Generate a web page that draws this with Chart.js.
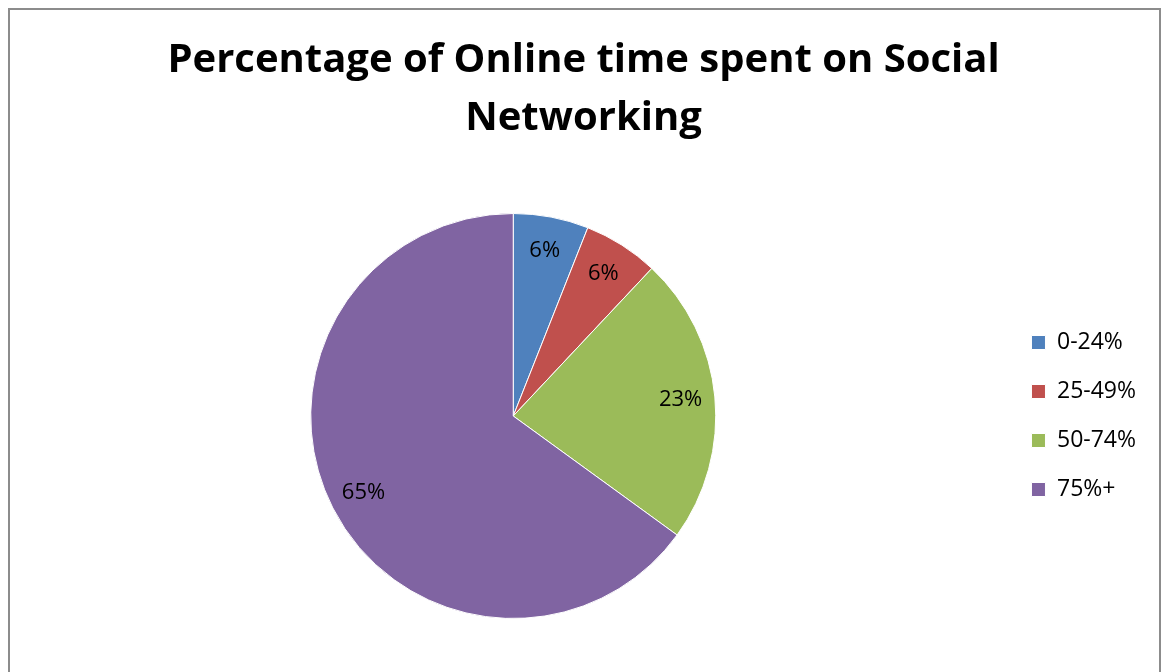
<!DOCTYPE html>
<html lang="en">
<head>
    <meta charset="UTF-8">
    <title>Online time on Social Networking</title>
    <script src="https://cdn.jsdelivr.net/npm/chart.js"></script>
    <style>
        body {
            margin: 0;
            background: #ffffff;
        }
        .frame {
            position: absolute;
            left: 8px;
            top: 8px;
            width: 1153px;
            height: 700px;
            box-sizing: border-box;
            border: 2px solid #8c8c8c;
        }
        .chart-box {
            position: absolute;
            left: 0;
            top: 0;
            width: 1163px;
            height: 672px;
        }
    </style>
</head>
<body>
    <div class="frame"></div>
    <div class="chart-box">
        <canvas id="pieChart" width="1163" height="672"></canvas>
    </div>

    <script>
        // 数据
        var categories = ['0-24%', '25-49%', '50-74%', '75%+'];
        var shares = [6, 6, 23, 65];
        var sliceColors = ['#4f81bd', '#c0504d', '#9bbb59', '#8064a2'];

        // 在扇区上写百分比
        var sliceLabels = {
            id: 'sliceLabels',
            afterDatasetsDraw: function(chart) {
                var ctx = chart.ctx;
                var meta = chart.getDatasetMeta(0);
                ctx.save();
                ctx.font = '22px "Open Sans"';
                ctx.fillStyle = '#000000';
                ctx.textAlign = 'center';
                ctx.textBaseline = 'middle';
                meta.data.forEach(function(arc, i) {
                    var p = arc.getProps(['x', 'y', 'startAngle', 'endAngle', 'outerRadius']);
                    var mid = (p.startAngle + p.endAngle) / 2;
                    var r = p.outerRadius * 0.83;
                    ctx.fillText(shares[i] + '%', p.x + Math.cos(mid) * r, p.y + Math.sin(mid) * r);
                });
                ctx.restore();
            }
        };

        var ctx = document.getElementById('pieChart').getContext('2d');
        var pieChart = new Chart(ctx, {
            type: 'pie',
            data: {
                labels: categories,
                datasets: [{
                    data: shares,
                    backgroundColor: sliceColors,
                    borderColor: '#ffffff',
                    borderWidth: 1
                }]
            },
            options: {
                responsive: false,
                animation: false,
                layout: {
                    padding: { left: 21, right: 17, top: 0, bottom: 53 }
                },
                plugins: {
                    title: {
                        display: true,
                        text: ['Percentage of Online time spent on Social', 'Networking'],
                        color: '#000000',
                        font: { family: 'Open Sans', size: 40, weight: 'bold', lineHeight: 1.45 },
                        padding: { top: 32, bottom: 65 }
                    },
                    legend: {
                        position: 'right',
                        fullSize: false,
                        labels: {
                            color: '#000000',
                            font: { family: 'Open Sans', size: 23 },
                            boxWidth: 14,
                            boxHeight: 14,
                            padding: 26
                        }
                    },
                    tooltip: { enabled: false }
                }
            },
            plugins: [sliceLabels]
        });
    </script>
</body>
</html>
